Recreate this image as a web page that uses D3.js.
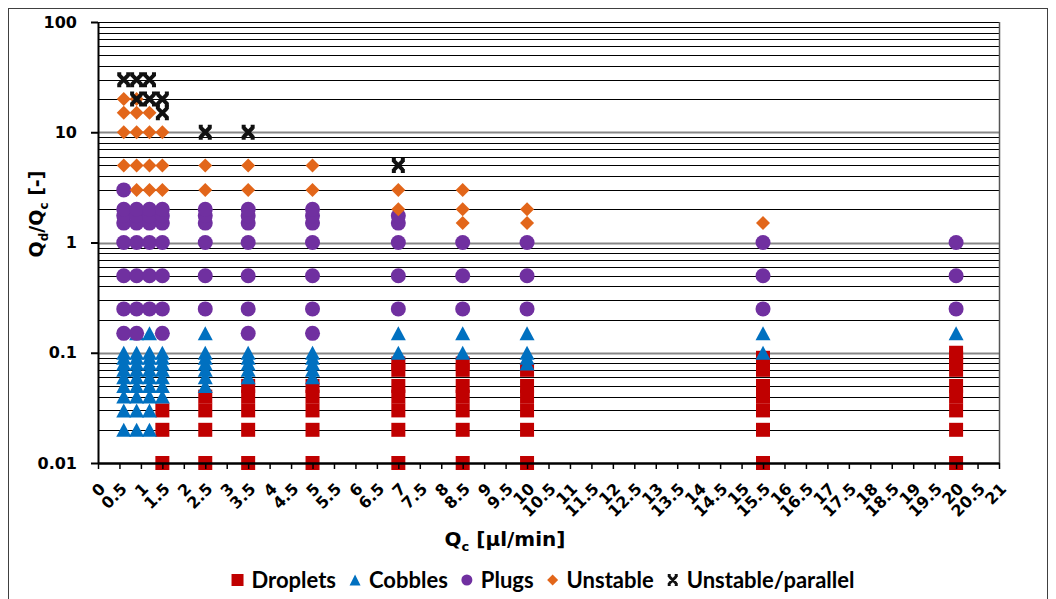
<!DOCTYPE html>
<html>
<head>
<meta charset="utf-8">
<script src="https://cdn.jsdelivr.net/npm/d3@7/dist/d3.min.js"></script>
<style>
body { margin: 0; background: #fff; }
</style>
</head>
<body>
<div id="chart"></div>
<script>
// x ticks every 0.5 ul/min, y decades
var qcTicks = d3.range(0, 21.001, 0.5);
var ratioTicks = [0.01, 0.1, 1, 10, 100];

// each entry: [Qc, list of Qd/Qc values]
var droplets = [
    [1.5, [0.01, 0.02, 0.03]],
    [2.5, [0.01, 0.02, 0.03, 0.04]],
    [3.5, [0.01, 0.02, 0.03, 0.04, 0.05]],
    [5, [0.01, 0.02, 0.03, 0.04, 0.05]],
    [7, [0.01, 0.02, 0.03, 0.04, 0.05, 0.07, 0.08]],
    [8.5, [0.01, 0.02, 0.03, 0.04, 0.05, 0.07, 0.08]],
    [10, [0.01, 0.02, 0.03, 0.04, 0.05, 0.07]],
    [15.5, [0.01, 0.02, 0.03, 0.04, 0.05, 0.07, 0.08, 0.09]],
    [20, [0.01, 0.02, 0.03, 0.04, 0.05, 0.07, 0.08, 0.09, 0.1]]
];

var cobbles = [
    [0.6, [0.02, 0.03, 0.04, 0.05, 0.06, 0.07, 0.08, 0.09, 0.1]],
    [0.9, [0.02, 0.03, 0.04, 0.05, 0.06, 0.07, 0.08, 0.09, 0.1, 0.15]],
    [1.2, [0.02, 0.03, 0.04, 0.05, 0.06, 0.07, 0.08, 0.09, 0.1, 0.15]],
    [1.5, [0.04, 0.05, 0.06, 0.07, 0.08, 0.09, 0.1]],
    [2.5, [0.05, 0.06, 0.07, 0.08, 0.09, 0.1, 0.15]],
    [3.5, [0.06, 0.07, 0.08, 0.09, 0.1]],
    [5, [0.06, 0.07, 0.08, 0.09, 0.1]],
    [7, [0.1, 0.15]],
    [8.5, [0.1, 0.15]],
    [10, [0.08, 0.09, 0.1, 0.15]],
    [15.5, [0.1, 0.15]],
    [20, [0.15]]
];

var plugs = [
    [0.6, [0.15, 0.25, 0.5, 1, 1.5, 1.75, 2, 3]],
    [0.9, [0.15, 0.25, 0.5, 1, 1.5, 1.75, 2]],
    [1.2, [0.25, 0.5, 1, 1.5, 1.75, 2]],
    [1.5, [0.15, 0.25, 0.5, 1, 1.5, 1.75, 2]],
    [2.5, [0.25, 0.5, 1, 1.5, 1.75, 2]],
    [3.5, [0.15, 0.25, 0.5, 1, 1.5, 1.75, 2]],
    [5, [0.15, 0.25, 0.5, 1, 1.5, 1.75, 2]],
    [7, [0.25, 0.5, 1, 1.5, 1.75]],
    [8.5, [0.25, 0.5, 1]],
    [10, [0.25, 0.5, 1]],
    [15.5, [0.25, 0.5, 1]],
    [20, [0.25, 0.5, 1]]
];

var unstable = [
    [0.6, [5, 10, 15, 20]],
    [0.9, [3, 5, 10, 15, 20]],
    [1.2, [3, 5, 10, 15]],
    [1.5, [3, 5, 10]],
    [2.5, [3, 5]],
    [3.5, [3, 5]],
    [5, [3, 5]],
    [7, [2, 3]],
    [8.5, [1.5, 2, 3]],
    [10, [1.5, 2]],
    [15.5, [1.5]]
];

var unstableParallel = [
    [0.6, [30]],
    [0.9, [20, 30]],
    [1.2, [20, 30]],
    [1.5, [15, 20]],
    [2.5, [10]],
    [3.5, [10]],
    [7, [5]]
];

var seriesNames = ["Droplets", "Cobbles", "Plugs", "Unstable", "Unstable/parallel"];
var seriesData = [droplets, cobbles, plugs, unstable, unstableParallel];
var seriesColors = ["#C00000", "#0070C0", "#7030A0", "#E2661A", "#111111"];

var width = 1056, height = 599;
var plotLeft = 98, plotRight = 999, plotTop = 22, plotBottom = 463;

var svg = d3.select("#chart").append("svg")
    .attr("width", width)
    .attr("height", height);

// outer chart border
svg.append("rect")
    .attr("x", 8.5).attr("y", 8.5)
    .attr("width", 1039).attr("height", 620)
    .attr("fill", "none")
    .attr("stroke", "#404040");

var x = d3.scaleLinear().domain([0, 21]).range([plotLeft, plotRight]);
var y = d3.scaleLog().domain([0.01, 100]).range([plotBottom, plotTop]);

function isDecade(d) {
    var l = Math.log10(d);
    return Math.abs(l - Math.round(l)) < 1e-9;
}

// horizontal gridlines, minor black, major grey
var gridVals = y.ticks().filter(function(d) { return d > 0.01; });
svg.append("g").selectAll("line")
    .data(gridVals)
    .enter().append("line")
    .attr("x1", plotLeft).attr("x2", plotRight)
    .attr("y1", function(d) { return Math.round(y(d)) + 0.5; })
    .attr("y2", function(d) { return Math.round(y(d)) + 0.5; })
    .attr("stroke", function(d) { return (isDecade(d) && d < 100) ? "#888" : "#000"; })
    .attr("stroke-width", function(d) { return (isDecade(d) && d < 100) ? 2 : 1.2; });

// right edge of plot area
svg.append("line")
    .attr("x1", plotRight + 0.5).attr("x2", plotRight + 0.5)
    .attr("y1", plotTop).attr("y2", plotBottom)
    .attr("stroke", "#555").attr("stroke-width", 1.5);

// marker shapes
function markerPath(i) {
    if (i === 0) return "M-7,-7H7V7H-7Z";
    if (i === 1) return "M0,-7L7.5,7H-7.5Z";
    if (i === 2) return d3.symbol().type(d3.symbolCircle).size(Math.PI * 7.5 * 7.5)();
    if (i === 3) return "M0,-7L7,0L0,7L-7,0Z";
    return "M-4.5,-4.5L4.5,4.5M4.5,-4.5L-4.5,4.5M-6.5,-5.5H-2.5M2.5,-5.5H6.5M-6.5,5.5H-2.5M2.5,5.5H6.5";
}

seriesData.forEach(function(series, i) {
    var pts = [];
    series.forEach(function(col) {
        col[1].forEach(function(v) { pts.push({ qc: col[0], r: v }); });
    });
    var g = svg.append("g").attr("class", "series-" + i);
    var marks = g.selectAll("path")
        .data(pts)
        .enter().append("path")
        .attr("d", markerPath(i))
        .attr("transform", function(d) { return "translate(" + x(d.qc) + "," + y(d.r) + ")"; });
    if (i === 4) {
        marks.attr("fill", "none")
            .attr("stroke", seriesColors[i])
            .attr("stroke-width", 4);
    } else {
        marks.attr("fill", seriesColors[i]);
    }
});

// axes
var xAxis = svg.append("g")
    .attr("transform", "translate(0," + plotBottom + ")")
    .call(d3.axisBottom(x).tickValues(qcTicks).tickSize(6).tickSizeOuter(0)
        .tickFormat(function(d) { return String(d); }));
xAxis.select(".domain").attr("stroke-width", 2.5);
xAxis.selectAll(".tick line").attr("stroke-width", 1.5);
xAxis.selectAll("text")
    .attr("font-family", "DejaVu Sans")
    .attr("font-size", 16)
    .attr("font-weight", "bold")
    .attr("fill", "#000")
    .attr("text-anchor", "end")
    .attr("y", 0)
    .attr("dy", "0.35em")
    .attr("transform", "translate(4,23) rotate(-45)");

var yAxis = svg.append("g")
    .attr("transform", "translate(" + plotLeft + ",0)")
    .call(d3.axisLeft(y).tickValues(ratioTicks).tickSize(7).tickSizeOuter(0).tickPadding(14)
        .tickFormat(function(d) { return String(d); }));
yAxis.select(".domain").attr("stroke-width", 2);
yAxis.selectAll(".tick line").attr("stroke-width", 2);
yAxis.selectAll("text")
    .attr("font-family", "DejaVu Sans")
    .attr("font-size", 16)
    .attr("font-weight", "bold")
    .attr("fill", "#000");

// axis titles
var xTitle = svg.append("text")
    .attr("x", 505).attr("y", 546)
    .attr("text-anchor", "middle")
    .style("font-family", "DejaVu Sans")
    .style("font-size", "20px")
    .style("font-weight", "bold");
xTitle.append("tspan").text("Q");
xTitle.append("tspan").text("c").attr("dy", 5).style("font-size", "13px");
xTitle.append("tspan").text("  [µl/min]").attr("dy", -5);

var yTitle = svg.append("text")
    .attr("transform", "translate(43,214) rotate(-90)")
    .attr("text-anchor", "middle")
    .style("font-family", "DejaVu Sans")
    .style("font-size", "19px")
    .style("font-weight", "bold");
yTitle.append("tspan").text("Q");
yTitle.append("tspan").text("d").attr("dy", 5).style("font-size", "12px");
yTitle.append("tspan").text("/Q").attr("dy", -5);
yTitle.append("tspan").text("c").attr("dy", 5).style("font-size", "12px");
yTitle.append("tspan").text(" [-]").attr("dy", -5);

// legend
function legendPath(i) {
    if (i === 0) return "M-6,-6H6V6H-6Z";
    if (i === 1) return "M0,-5.5L5.5,5.5H-5.5Z";
    if (i === 2) return d3.symbol().type(d3.symbolCircle).size(Math.PI * 5.5 * 5.5)();
    if (i === 3) return "M0,-5.5L5.5,0L0,5.5L-5.5,0Z";
    return "M-3.5,-3.5L3.5,3.5M3.5,-3.5L-3.5,3.5M-5,-4.5H-2M2,-4.5H5M-5,4.5H-2M2,4.5H5";
}

var legend = svg.append("g");
var lx = 0;
seriesNames.forEach(function(name, i) {
    var item = legend.append("g").attr("transform", "translate(" + lx + ",0)");
    var sym = item.append("path").attr("d", legendPath(i)).attr("transform", "translate(6,0)");
    if (i === 4) sym.attr("fill", "none").attr("stroke", seriesColors[i]).attr("stroke-width", 3);
    else sym.attr("fill", seriesColors[i]);
    var t = item.append("text")
        .attr("x", 20).attr("y", 0).attr("dy", "0.35em")
        .text(name)
        .style("font-family", "Lato")
        .style("font-size", "22px")
        .style("font-weight", "bold");
    lx += 20 + t.node().getComputedTextLength() + 13;
});
var legendWidth = lx - 13;
legend.attr("transform", "translate(" + (543 - legendWidth / 2) + ",580)");
</script>
</body>
</html>
